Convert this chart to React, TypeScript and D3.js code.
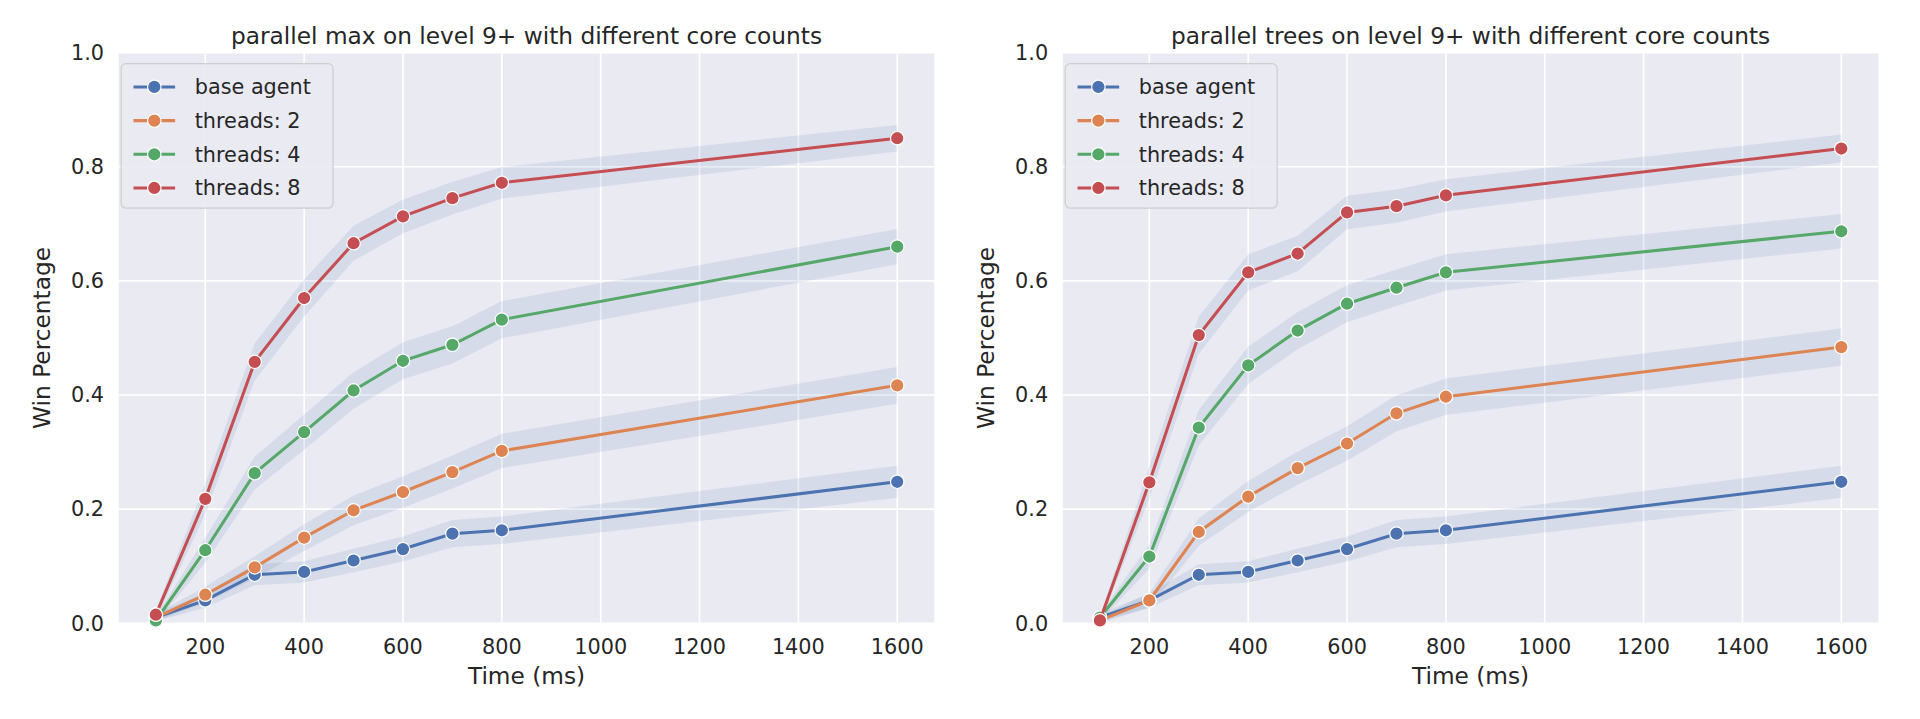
import React, { useEffect, useRef } from "react";
import * as d3 from "d3";

const times = [100, 200, 300, 400, 500, 600, 700, 800, 1600];
const seriesNames = ["base agent", "threads: 2", "threads: 4", "threads: 8"];
const colors = ["#4c72b0", "#dd8452", "#55a868", "#c44e52"];

const maxBase = [0.01, 0.04, 0.085, 0.09, 0.11, 0.13, 0.157, 0.163, 0.248];
const maxT2 = [0.01, 0.05, 0.098, 0.15, 0.198, 0.23, 0.265, 0.302, 0.417];
const maxT4 = [0.005, 0.128, 0.263, 0.335, 0.408, 0.46, 0.488, 0.532, 0.66];
const maxT8 = [0.015, 0.218, 0.458, 0.57, 0.666, 0.713, 0.745, 0.772, 0.85];

const treeBase = [0.01, 0.04, 0.085, 0.09, 0.11, 0.13, 0.157, 0.163, 0.248];
const treeT2 = [0.005, 0.04, 0.16, 0.222, 0.272, 0.315, 0.368, 0.397, 0.484];
const treeT4 = [0.01, 0.117, 0.343, 0.452, 0.513, 0.56, 0.588, 0.615, 0.687];
const treeT8 = [0.005, 0.247, 0.505, 0.615, 0.648, 0.72, 0.731, 0.75, 0.832];

const panels = [
  { title: "parallel max on level 9+ with different core counts", series: [maxBase, maxT2, maxT4, maxT8], left: 97 },
  { title: "parallel trees on level 9+ with different core counts", series: [treeBase, treeT2, treeT4, treeT8], left: 868 },
];

const xTicks = [200, 400, 600, 800, 1000, 1200, 1400, 1600];
const yTicks = [0, 0.2, 0.4, 0.6, 0.8, 1.0];

const W = 1920, H = 719;
const S = 1920 / 1568;
const plotW = 666, top = 43, plotH = 466;
const font = "DejaVu Sans, sans-serif";

export default function App() {
  const ref = useRef<SVGSVGElement>(null);
  useEffect(() => {
    const svg = d3.select(ref.current);
    svg.selectAll("*").remove();
    const root = svg.append("g").attr("transform", `scale(${S})`);
    panels.forEach((p) => {
      const g = root.append("g").attr("transform", `translate(${p.left},${top})`);
      const x = d3.scaleLinear().domain([25, 1675]).range([0, plotW]);
      const y = d3.scaleLinear().domain([0, 1]).range([plotH, 0]);
      g.append("rect").attr("width", plotW).attr("height", plotH).attr("fill", "#eaeaf2");
      xTicks.forEach((t) => {
        g.append("line").attr("x1", x(t)).attr("x2", x(t)).attr("y1", 0).attr("y2", plotH).attr("stroke", "#fff").attr("stroke-width", 1.3);
        g.append("text").attr("x", x(t)).attr("y", plotH + 25).attr("text-anchor", "middle").attr("font-size", 17).attr("fill", "#262626").attr("font-family", font).text(t);
      });
      yTicks.forEach((t) => {
        g.append("line").attr("x1", 0).attr("x2", plotW).attr("y1", y(t)).attr("y2", y(t)).attr("stroke", "#fff").attr("stroke-width", 1.3);
        g.append("text").attr("x", -12).attr("y", y(t) + 6).attr("text-anchor", "end").attr("font-size", 17).attr("fill", "#262626").attr("font-family", font).text(t.toFixed(1));
      });
      g.append("text").attr("x", plotW / 2).attr("y", plotH + 50).attr("text-anchor", "middle").attr("font-size", 19).attr("fill", "#262626").attr("font-family", font).text("Time (ms)");
      g.append("text").attr("transform", `translate(-56,${plotH / 2}) rotate(-90)`).attr("text-anchor", "middle").attr("font-size", 19).attr("fill", "#262626").attr("font-family", font).text("Win Percentage");
      g.append("text").attr("x", plotW / 2).attr("y", -7).attr("text-anchor", "middle").attr("font-size", 19).attr("fill", "#262626").attr("font-family", font).text(p.title);

      const ci = (v: number) => 1.96 * Math.sqrt(Math.max(v * (1 - v), 0.01) / 900);
      const area = d3.area<number>().x((_, i) => x(times[i])).y0((v) => y(Math.max(0, v - ci(v)))).y1((v) => y(v + ci(v)));
      const line = d3.line<number>().x((_, i) => x(times[i])).y((v) => y(v));
      p.series.forEach((s) => {
        g.append("path").attr("d", area(s)!).attr("fill", "#4c72b0").attr("opacity", 0.12);
      });
      p.series.forEach((s, k) => {
        g.append("path").attr("d", line(s)!).attr("fill", "none").attr("stroke", colors[k]).attr("stroke-width", 2.5);
        g.selectAll(null).data(s).join("circle").attr("cx", (_, i) => x(times[i])).attr("cy", (v) => y(v)).attr("r", 5.5)
          .attr("fill", colors[k]).attr("stroke", "#fff").attr("stroke-width", 1);
      });

      const lg = g.append("g").attr("transform", "translate(2,9)");
      lg.append("rect").attr("width", 173).attr("height", 118).attr("rx", 4).attr("fill", "#eaeaf2").attr("stroke", "#ccc").attr("opacity", 0.9);
      seriesNames.forEach((n, k) => {
        const yy = 19 + k * 27.5;
        lg.append("line").attr("x1", 10).attr("x2", 44).attr("y1", yy).attr("y2", yy).attr("stroke", colors[k]).attr("stroke-width", 2.5);
        lg.append("circle").attr("cx", 27).attr("cy", yy).attr("r", 5.5).attr("fill", colors[k]).attr("stroke", "#fff");
        lg.append("text").attr("x", 60).attr("y", yy + 6).attr("font-size", 17).attr("fill", "#262626").attr("font-family", font).text(n);
      });
    });
  }, []);
  return <svg ref={ref} width={W} height={H} style={{ display: "block", background: "#fff", margin: -8 }} />;
}
